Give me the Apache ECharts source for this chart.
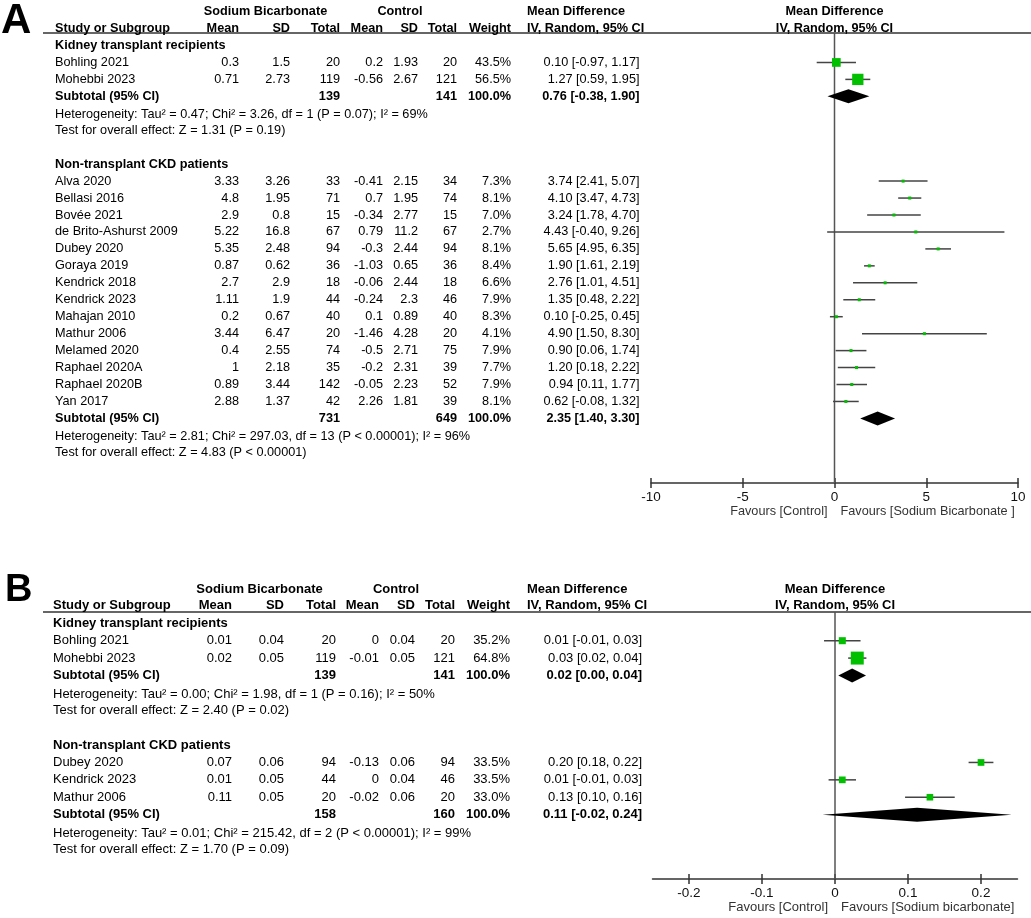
<!DOCTYPE html>
<html><head><meta charset="utf-8">
<script src="https://cdn.jsdelivr.net/npm/echarts@6/dist/echarts.min.js"></script>
<style>html,body{margin:0;padding:0;background:#fff}#c{width:1031px;height:918px}</style>
</head><body><div id="c"></div><script>
// ================= DATA =================
// ---- Panel A : Kidney transplant recipients ----
const A_ktTitle = 'Kidney transplant recipients';
const A_ktNames = ['Bohling 2021', 'Mohebbi 2023'];
const A_ktSbMean = [0.3, 0.71];
const A_ktSbSD = [1.5, 2.73];
const A_ktSbN = [20, 119];
const A_ktCtMean = [0.2, -0.56];
const A_ktCtSD = [1.93, 2.67];
const A_ktCtN = [20, 121];
const A_ktWeight = [43.5, 56.5];
const A_ktCI = ['0.10 [-0.97, 1.17]', '1.27 [0.59, 1.95]'];
const A_ktMD = [0.10, 1.27];
const A_ktLo = [-0.97, 0.59];
const A_ktHi = [1.17, 1.95];
const A_ktSubN = [139, 141];
const A_ktSub = [0.76, -0.38, 1.90];
const A_ktSubCI = '0.76 [-0.38, 1.90]';
const A_ktHet = 'Heterogeneity: Tau² = 0.47; Chi² = 3.26, df = 1 (P = 0.07); I² = 69%';
const A_ktTest = 'Test for overall effect: Z = 1.31 (P = 0.19)';
// ---- Panel A : Non-transplant CKD patients ----
const A_ntTitle = 'Non-transplant CKD patients';
const A_ntNames = ['Alva 2020', 'Bellasi 2016', 'Bovée 2021', 'de Brito-Ashurst 2009', 'Dubey 2020', 'Goraya 2019', 'Kendrick 2018', 'Kendrick 2023', 'Mahajan 2010', 'Mathur 2006', 'Melamed 2020', 'Raphael 2020A', 'Raphael 2020B', 'Yan 2017'];
const A_ntSbMean = [3.33, 4.8, 2.9, 5.22, 5.35, 0.87, 2.7, 1.11, 0.2, 3.44, 0.4, 1, 0.89, 2.88];
const A_ntSbSD = [3.26, 1.95, 0.8, 16.8, 2.48, 0.62, 2.9, 1.9, 0.67, 6.47, 2.55, 2.18, 3.44, 1.37];
const A_ntSbN = [33, 71, 15, 67, 94, 36, 18, 44, 40, 20, 74, 35, 142, 42];
const A_ntCtMean = [-0.41, 0.7, -0.34, 0.79, -0.3, -1.03, -0.06, -0.24, 0.1, -1.46, -0.5, -0.2, -0.05, 2.26];
const A_ntCtSD = [2.15, 1.95, 2.77, 11.2, 2.44, 0.65, 2.44, 2.3, 0.89, 4.28, 2.71, 2.31, 2.23, 1.81];
const A_ntCtN = [34, 74, 15, 67, 94, 36, 18, 46, 40, 20, 75, 39, 52, 39];
const A_ntWeight = [7.3, 8.1, 7.0, 2.7, 8.1, 8.4, 6.6, 7.9, 8.3, 4.1, 7.9, 7.7, 7.9, 8.1];
const A_ntCI = ['3.74 [2.41, 5.07]', '4.10 [3.47, 4.73]', '3.24 [1.78, 4.70]', '4.43 [-0.40, 9.26]', '5.65 [4.95, 6.35]', '1.90 [1.61, 2.19]', '2.76 [1.01, 4.51]', '1.35 [0.48, 2.22]', '0.10 [-0.25, 0.45]', '4.90 [1.50, 8.30]', '0.90 [0.06, 1.74]', '1.20 [0.18, 2.22]', '0.94 [0.11, 1.77]', '0.62 [-0.08, 1.32]'];
const A_ntMD = [3.74, 4.10, 3.24, 4.43, 5.65, 1.90, 2.76, 1.35, 0.10, 4.90, 0.90, 1.20, 0.94, 0.62];
const A_ntLo = [2.41, 3.47, 1.78, -0.40, 4.95, 1.61, 1.01, 0.48, -0.25, 1.50, 0.06, 0.18, 0.11, -0.08];
const A_ntHi = [5.07, 4.73, 4.70, 9.26, 6.35, 2.19, 4.51, 2.22, 0.45, 8.30, 1.74, 2.22, 1.77, 1.32];
const A_ntSubN = [731, 649];
const A_ntSub = [2.35, 1.40, 3.30];
const A_ntSubCI = '2.35 [1.40, 3.30]';
const A_ntHet = 'Heterogeneity: Tau² = 2.81; Chi² = 297.03, df = 13 (P < 0.00001); I² = 96%';
const A_ntTest = 'Test for overall effect: Z = 4.83 (P < 0.00001)';
const A_ticks = [-10, -5, 0, 5, 10];
const A_favours = ['Favours [Control]', 'Favours [Sodium Bicarbonate ]'];

// ---- Panel B : Kidney transplant recipients ----
const B_ktTitle = 'Kidney transplant recipients';
const B_ktNames = ['Bohling 2021', 'Mohebbi 2023'];
const B_ktSbMean = [0.01, 0.02];
const B_ktSbSD = [0.04, 0.05];
const B_ktSbN = [20, 119];
const B_ktCtMean = [0, -0.01];
const B_ktCtSD = [0.04, 0.05];
const B_ktCtN = [20, 121];
const B_ktWeight = [35.2, 64.8];
const B_ktCI = ['0.01 [-0.01, 0.03]', '0.03 [0.02, 0.04]'];
const B_ktMD = [0.01, 0.0305];
const B_ktLo = [-0.015, 0.018];
const B_ktHi = [0.035, 0.043];
const B_ktSubN = [139, 141];
const B_ktSub = [0.0235, 0.0045, 0.0425];
const B_ktSubCI = '0.02 [0.00, 0.04]';
const B_ktHet = 'Heterogeneity: Tau² = 0.00; Chi² = 1.98, df = 1 (P = 0.16); I² = 50%';
const B_ktTest = 'Test for overall effect: Z = 2.40 (P = 0.02)';
// ---- Panel B : Non-transplant CKD patients ----
const B_ntTitle = 'Non-transplant CKD patients';
const B_ntNames = ['Dubey 2020', 'Kendrick 2023', 'Mathur 2006'];
const B_ntSbMean = [0.07, 0.01, 0.11];
const B_ntSbSD = [0.06, 0.05, 0.05];
const B_ntSbN = [94, 44, 20];
const B_ntCtMean = [-0.13, 0, -0.02];
const B_ntCtSD = [0.06, 0.04, 0.06];
const B_ntCtN = [94, 46, 20];
const B_ntWeight = [33.5, 33.5, 33.0];
const B_ntCI = ['0.20 [0.18, 0.22]', '0.01 [-0.01, 0.03]', '0.13 [0.10, 0.16]'];
const B_ntMD = [0.20, 0.01, 0.13];
const B_ntLo = [0.183, -0.0088, 0.096];
const B_ntHi = [0.217, 0.0288, 0.164];
const B_ntSubN = [158, 160];
const B_ntSub = [0.1125, -0.017, 0.242];
const B_ntSubCI = '0.11 [-0.02, 0.24]';
const B_ntHet = 'Heterogeneity: Tau² = 0.01; Chi² = 215.42, df = 2 (P < 0.00001); I² = 99%';
const B_ntTest = 'Test for overall effect: Z = 1.70 (P = 0.09)';
const B_ticks = [-0.2, -0.1, 0, 0.1, 0.2];
const B_favours = ['Favours [Control]', 'Favours [Sodium bicarbonate]'];

const colHeads = ['Mean', 'SD', 'Total', 'Mean', 'SD', 'Total', 'Weight'];

// ================= LAYOUT / BUILD =================
const FONT = "'Liberation Sans', Arial, Helvetica, sans-serif";
const W = 1031, H = 918;

function grp(title, names, sbMean, sbSD, sbN, ctMean, ctSD, ctN, weight, ciText, md, lo, hi, subN, sub, subCI, het, test) {
  return {title, names, sbMean, sbSD, sbN, ctMean, ctSD, ctN, weight, ciText, md, lo, hi, subN, sub, subCI, het, test};
}

const panels = [
  {
    groups: [
      grp(A_ktTitle, A_ktNames, A_ktSbMean, A_ktSbSD, A_ktSbN, A_ktCtMean, A_ktCtSD, A_ktCtN, A_ktWeight, A_ktCI, A_ktMD, A_ktLo, A_ktHi, A_ktSubN, A_ktSub, A_ktSubCI, A_ktHet, A_ktTest),
      grp(A_ntTitle, A_ntNames, A_ntSbMean, A_ntSbSD, A_ntSbN, A_ntCtMean, A_ntCtSD, A_ntCtN, A_ntWeight, A_ntCI, A_ntMD, A_ntLo, A_ntHi, A_ntSubN, A_ntSub, A_ntSubCI, A_ntHet, A_ntTest)
    ],
    ticks: A_ticks, favours: A_favours, xMin: -10, xMax: 10,
    cols: {study: 55, sbMean: 239, sbSD: 290, sbN: 340, ctMean: 383, ctSD: 418, ctN: 457, weight: 511, ci: 639.5, mdHead: 527, sbCenter: 265.5, ctCenter: 400, rule: 43},
    font: 12.7, hetOff: 1.05, testOff: 2.0, headRows: [-1.99, -1.03], favRow: 27.52,
    yMin: -0.737, yMax: 25.81, top: 33, axisY: 483, fLeft: 651, fRight: 13
  },
  {
    groups: [
      grp(B_ktTitle, B_ktNames, B_ktSbMean, B_ktSbSD, B_ktSbN, B_ktCtMean, B_ktCtSD, B_ktCtN, B_ktWeight, B_ktCI, B_ktMD, B_ktLo, B_ktHi, B_ktSubN, B_ktSub, B_ktSubCI, B_ktHet, B_ktTest),
      grp(B_ntTitle, B_ntNames, B_ntSbMean, B_ntSbSD, B_ntSbN, B_ntCtMean, B_ntCtSD, B_ntCtN, B_ntWeight, B_ntCI, B_ntMD, B_ntLo, B_ntHi, B_ntSubN, B_ntSub, B_ntSubCI, B_ntHet, B_ntTest)
    ],
    ticks: B_ticks, favours: B_favours, xMin: -0.25, xMax: 0.25,
    cols: {study: 53, sbMean: 232, sbSD: 284, sbN: 336, ctMean: 379, ctSD: 415, ctN: 455, weight: 510, ci: 642, mdHead: 527, sbCenter: 259.5, ctCenter: 396, rule: 43},
    font: 13, hetOff: 1.08, testOff: 2.02, headRows: [-1.97, -1.05], favRow: 16.36,
    yMin: -0.65, yMax: 14.7, top: 612, axisY: 879, fLeft: 652.5, fRight: 13.5
  }
];

function buildPanel(P) {
  const texts = [], ftexts = [], cis = [], dias = [];
  const c = P.cols;
  const T = (x, row, text, align, bold) => texts.push({x, row, text, align, bold: !!bold});
  T(c.sbCenter, P.headRows[0], 'Sodium Bicarbonate', 'center', true);
  T(c.ctCenter, P.headRows[0], 'Control', 'center', true);
  T(c.mdHead, P.headRows[0], 'Mean Difference', 'left', true);
  T(c.study, P.headRows[1], 'Study or Subgroup', 'left', true);
  const rights = [c.sbMean, c.sbSD, c.sbN, c.ctMean, c.ctSD, c.ctN, c.weight];
  colHeads.forEach((h, i) => T(rights[i], P.headRows[1], h, 'right', true));
  T(c.mdHead, P.headRows[1], 'IV, Random, 95% CI', 'left', true);
  ftexts.push({x: 0, row: P.headRows[0], text: 'Mean Difference', align: 'center', bold: true, dx: 0});
  ftexts.push({x: 0, row: P.headRows[1], text: 'IV, Random, 95% CI', align: 'center', bold: true, dx: 0});
  ftexts.push({x: 0, row: P.favRow, text: P.favours[0], align: 'right', bold: false, dx: -7, color: '#333'});
  ftexts.push({x: 0, row: P.favRow, text: P.favours[1], align: 'left', bold: false, dx: 6, color: '#333'});
  let row = 0;
  P.groups.forEach(g => {
    T(c.study, row, g.title, 'left', true);
    g.names.forEach((n, i) => {
      row++;
      T(c.study, row, n, 'left');
      T(c.sbMean, row, String(g.sbMean[i]), 'right');
      T(c.sbSD, row, String(g.sbSD[i]), 'right');
      T(c.sbN, row, String(g.sbN[i]), 'right');
      T(c.ctMean, row, String(g.ctMean[i]), 'right');
      T(c.ctSD, row, String(g.ctSD[i]), 'right');
      T(c.ctN, row, String(g.ctN[i]), 'right');
      T(c.weight, row, g.weight[i].toFixed(1) + '%', 'right');
      T(c.ci, row, g.ciText[i], 'right');
      cis.push([g.lo[i], g.hi[i], g.md[i], row, Math.max(3, 0.2 * g.weight[i])]);
    });
    row++;
    T(c.study, row, 'Subtotal (95% CI)', 'left', true);
    T(c.sbN, row, String(g.subN[0]), 'right', true);
    T(c.ctN, row, String(g.subN[1]), 'right', true);
    T(c.weight, row, '100.0%', 'right', true);
    T(c.ci, row, g.subCI, 'right', true);
    dias.push([g.sub[1], g.sub[2], g.sub[0], row]);
    T(c.study, row + P.hetOff, g.het, 'left');
    T(c.study, row + P.testOff, g.test, 'left');
    row += 4;
  });
  return {texts, ftexts, cis, dias};
}

function textSeries(items, xi, yi, size) {
  return {
    type: 'custom', xAxisIndex: xi, yAxisIndex: yi, silent: true, clip: false,
    data: items.map(t => [t.x, t.row]),
    renderItem: (params, api) => {
      const t = items[params.dataIndex];
      const p = api.coord([t.x, t.row]);
      const f = (t.bold ? 'bold ' : '') + size + 'px ' + FONT;
      const col = t.color || '#000';
      return {type: 'text', x: p[0] + (t.dx || 0), y: p[1],
        style: {text: t.text, font: f, fill: col, textFill: col, align: t.align, textAlign: t.align,
                verticalAlign: 'middle', textVerticalAlign: 'middle'}};
    }
  };
}

const chart = echarts.init(document.getElementById('c'), null, {renderer: 'canvas'});
const grids = [], xAxes = [], yAxes = [], series = [];

panels.forEach((P, pi) => {
  const B = buildPanel(P);
  const bottom = H - P.axisY;
  const gT = grids.length;
  grids.push({left: 0, right: 0, top: P.top, bottom: bottom});
  grids.push({left: P.fLeft, right: P.fRight, top: P.top, bottom: bottom});
  const gF = gT + 1;
  const xT = xAxes.length;
  xAxes.push({type: 'value', gridIndex: gT, min: 0, max: W, show: false});
  const xF = xAxes.length;
  const useCustom = pi === 1;
  const mainAxis = {
    type: 'value', gridIndex: gF, min: P.xMin, max: P.xMax, position: 'bottom',
    axisLine: {show: true, onZero: false, lineStyle: {color: '#333', width: 1.5}},
    axisTick: {show: true, length: 5, lineStyle: {color: '#333', width: 1.5}},
    axisLabel: {show: true, margin: 7, fontSize: 13.5, color: '#111', fontFamily: FONT},
    splitLine: {show: false}
  };
  if (useCustom) {
    mainAxis.axisTick.customValues = P.ticks;
    mainAxis.axisLabel.customValues = P.ticks;
  } else {
    mainAxis.interval = 5;
  }
  xAxes.push(mainAxis);
  const innerAxis = JSON.parse(JSON.stringify(mainAxis));
  innerAxis.axisLine.show = false;
  innerAxis.axisLabel.show = false;
  innerAxis.axisTick.inside = true;
  xAxes.push(innerAxis);
  const yT = yAxes.length;
  yAxes.push({type: 'value', gridIndex: gT, min: P.yMin, max: P.yMax, inverse: true, show: false});
  const yF = yAxes.length;
  yAxes.push({type: 'value', gridIndex: gF, min: P.yMin, max: P.yMax, inverse: true, show: false});

  // header rule
  series.push({
    type: 'custom', xAxisIndex: xT, yAxisIndex: yT, silent: true, clip: false,
    data: [[P.cols.rule, P.yMin]],
    renderItem: (params, api) => {
      const a = api.coord([P.cols.rule, P.yMin]);
      const b = api.coord([W, P.yMin]);
      return {type: 'line', shape: {x1: a[0], y1: a[1], x2: b[0], y2: b[1]}, style: {stroke: '#333', lineWidth: 1.5}};
    }
  });
  // zero line
  series.push({
    type: 'custom', xAxisIndex: xF, yAxisIndex: yF, silent: true, clip: false,
    data: [[0, P.yMin]],
    renderItem: (params, api) => {
      const a = api.coord([0, P.yMin]);
      const b = api.coord([0, P.yMax]);
      return {type: 'line', shape: {x1: a[0], y1: a[1], x2: b[0], y2: b[1]}, style: {stroke: '#555', lineWidth: 1.5}};
    }
  });
  // CI lines + squares
  series.push({
    type: 'custom', xAxisIndex: xF, yAxisIndex: yF, silent: true, clip: false,
    data: B.cis,
    renderItem: (params, api) => {
      const r = api.value(3);
      const lo = api.coord([api.value(0), r]);
      const hi = api.coord([api.value(1), r]);
      const m = api.coord([api.value(2), r]);
      const s = api.value(4);
      return {type: 'group', children: [
        {type: 'line', shape: {x1: lo[0], y1: lo[1], x2: hi[0], y2: hi[1]}, style: {stroke: '#444', lineWidth: 1.5}},
        {type: 'rect', shape: {x: m[0] - s / 2, y: m[1] - s / 2, width: s, height: s}, style: {fill: '#00c000'}}
      ]};
    }
  });
  // diamonds
  series.push({
    type: 'custom', xAxisIndex: xF, yAxisIndex: yF, silent: true, clip: false,
    data: B.dias,
    renderItem: (params, api) => {
      const r = api.value(3);
      const lo = api.coord([api.value(0), r]);
      const hi = api.coord([api.value(1), r]);
      const m = api.coord([api.value(2), r]);
      const h = 7;
      return {type: 'polygon', shape: {points: [[lo[0], lo[1]], [m[0], m[1] - h], [hi[0], hi[1]], [m[0], m[1] + h]]}, style: {fill: '#000'}};
    }
  });
  series.push(textSeries(B.texts, xT, yT, P.font));
  series.push(textSeries(B.ftexts, xF, yF, P.font));
});

chart.setOption({
  animation: false,
  backgroundColor: '#fff',
  grid: grids, xAxis: xAxes, yAxis: yAxes, series: series,
  graphic: [
    {type: 'text', left: 1, top: 0, style: {text: 'A', font: 'bold 42px ' + FONT, fill: '#000'}},
    {type: 'text', left: 5, top: 572, style: {text: 'B', font: 'bold 38px ' + FONT, fill: '#000'}}
  ]
});
</script></body></html>
